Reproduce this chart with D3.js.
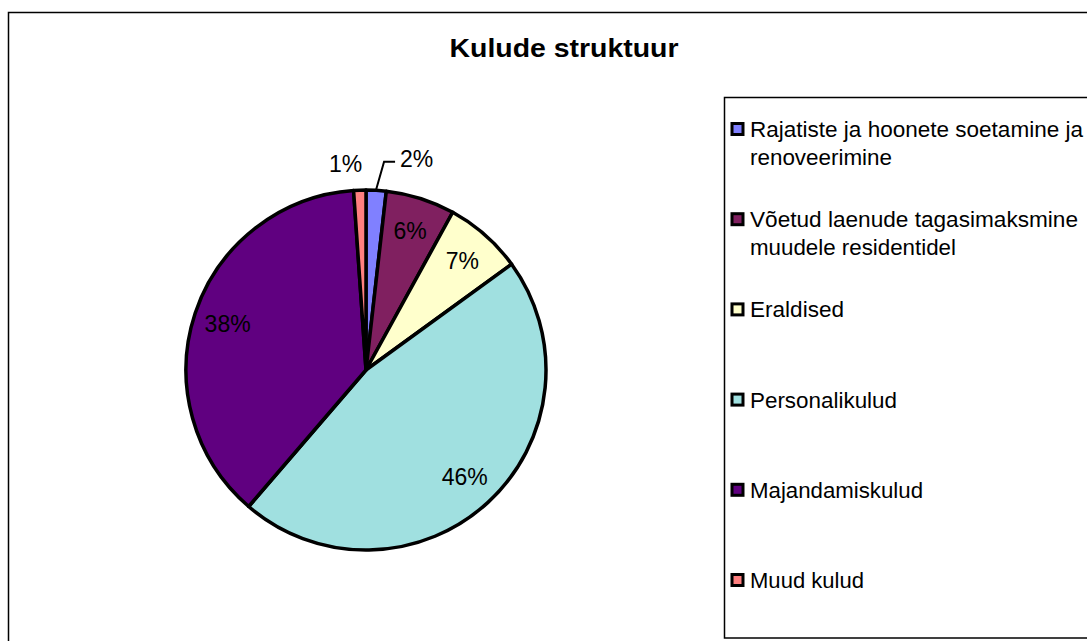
<!DOCTYPE html>
<html><head><meta charset="utf-8">
<script src="https://cdn.jsdelivr.net/npm/d3@7"></script>
<style>
html,body{margin:0;padding:0;background:#fff;}
svg{display:block;font-family:"Liberation Sans",Arial,sans-serif;}
</style></head>
<body>
<svg id="chart" width="1087" height="641"></svg>
<script>
const title = "Kulude struktuur";
const categories = [
  "Rajatiste ja hoonete soetamine ja renoveerimine",
  "Võetud laenude tagasimaksmine muudele residentidel",
  "Eraldised",
  "Personalikulud",
  "Majandamiskulud",
  "Muud kulud"
];
const legendLines = [
  ["Rajatiste ja hoonete soetamine ja", "renoveerimine"],
  ["Võetud laenude tagasimaksmine", "muudele residentidel"],
  ["Eraldised"],
  ["Personalikulud"],
  ["Majandamiskulud"],
  ["Muud kulud"]
];
const values = [1.8, 6.2, 7.0, 46.3, 37.6, 1.1];
const colors = ["#8080FF", "#802060", "#FFFFCC", "#A0E0E0", "#600080", "#FF8080"];

const svg = d3.select("#chart");

// outer chart border
svg.append("rect").attr("x", 8.5).attr("y", 12.5).attr("width", 1100).attr("height", 660)
  .attr("fill", "#fff").attr("stroke", "#000").attr("stroke-width", 1.5);

// title
svg.append("text").attr("x", 564).attr("y", 57).attr("text-anchor", "middle")
  .attr("font-size", 25).attr("font-weight", "bold")
  .attr("textLength", 229).attr("lengthAdjust", "spacingAndGlyphs")
  .text(title);

// pie
const cx = 366, cy = 370, R = 180;
const total = d3.sum(values);
const pie = d3.pie().sort(null).value(d => d)(values);
const arc = d3.arc().innerRadius(0).outerRadius(R);
const g = svg.append("g").attr("transform", `translate(${cx},${cy})`);
g.selectAll("path.slice").data(pie).enter().append("path")
  .attr("class", "slice")
  .attr("d", arc)
  .attr("fill", (d, i) => colors[i])
  .attr("stroke", "#000").attr("stroke-width", 3.5).attr("stroke-linejoin", "round");

const pct = v => Math.round(v / total * 100) + "%";
const labelArc = d3.arc().innerRadius(R * 0.81).outerRadius(R * 0.81);

pie.forEach((d, i) => {
  const mid = (d.startAngle + d.endAngle) / 2;
  const share = d.value / total;
  if (share >= 0.04) {
    const [x, y] = labelArc.centroid(d);
    g.append("text").attr("x", x).attr("y", y).attr("dy", "0.36em")
      .attr("text-anchor", "middle").attr("font-size", 23).attr("fill", "#000")
      .text(pct(d.value));
  } else if (mid < Math.PI) {
    // right side small slice with leader line
    const p0 = [Math.sin(mid) * (R + 1), -Math.cos(mid) * (R + 1)];
    const a1 = mid + 0.03;
    const p1 = [Math.sin(a1) * (R + 29), -Math.cos(a1) * (R + 29)];
    const p2 = [p1[0] + 11, p1[1]];
    g.append("polyline").attr("points", [p0, p1, p2].map(p => p.join(",")).join(" "))
      .attr("fill", "none").attr("stroke", "#000").attr("stroke-width", 2);
    g.append("text").attr("x", p2[0] + 5).attr("y", p2[1] + 5)
      .attr("text-anchor", "start").attr("font-size", 23).text(pct(d.value));
  } else {
    const r2 = R + 16;
    const x = Math.sin(mid) * r2, y = -Math.cos(mid) * r2;
    g.append("text").attr("x", x + 3).attr("y", y - 2)
      .attr("text-anchor", "end").attr("font-size", 23).text(pct(d.value));
  }
});

// legend
const lg = svg.append("g");
lg.append("rect").attr("x", 724.5).attr("y", 97.5).attr("width", 400).attr("height", 540.5)
  .attr("fill", "#fff").attr("stroke", "#000").attr("stroke-width", 1.5);

const legendY = d3.scalePoint().domain(d3.range(categories.length)).range([137, 588]);
const lineWidths = [[333, 142], [328, 206], [94], [147], [173], [114]];
categories.forEach((c, i) => {
  const by = legendY(i);
  lg.append("rect").attr("x", 732).attr("y", by - 13.5).attr("width", 11).attr("height", 11)
    .attr("fill", colors[i]).attr("stroke", "#000").attr("stroke-width", 3);
  legendLines[i].forEach((t, j) => {
    lg.append("text").attr("x", 750).attr("y", by + j * 28)
      .attr("font-size", 22).attr("fill", "#000")
      .attr("textLength", lineWidths[i][j]).attr("lengthAdjust", "spacingAndGlyphs")
      .text(t);
  });
});
</script>
</body></html>
